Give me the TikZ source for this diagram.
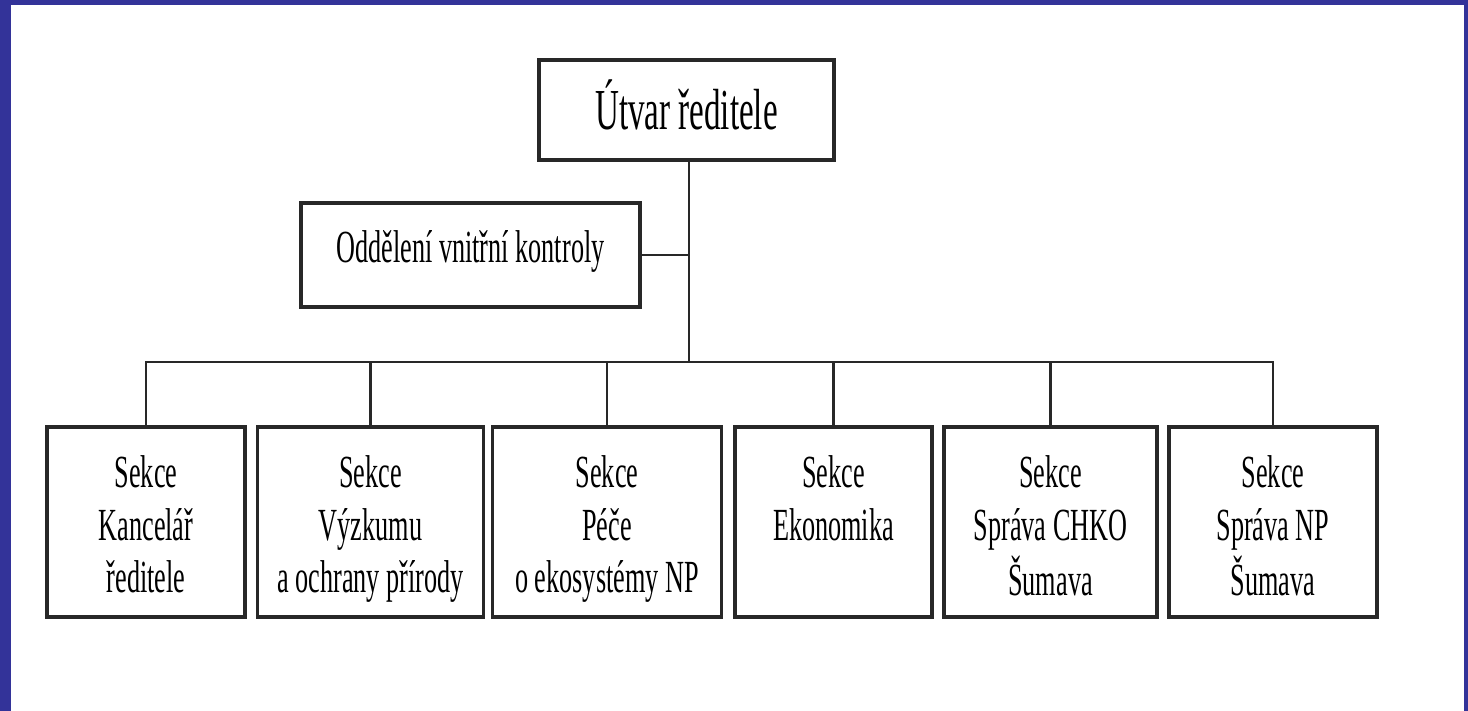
\documentclass[tikz,border=0pt]{standalone}
\usepackage{fontspec}
\setmainfont{Liberation Serif}[FakeStretch=0.57]
\usepackage{tikz}
\definecolor{frameblue}{RGB}{51,51,153}
\definecolor{boxline}{RGB}{40,40,40}
\newcommand{\sekce}[1]{\raisebox{0pt}[40bp][108bp]{\begin{tabular}[t]{@{}c@{}}#1\end{tabular}}}

\begin{document}
\begin{tikzpicture}[
    box/.style={draw=boxline, line width=3.5bp, inner sep=0pt, fill=white},
    sbox/.style={box, minimum height=190bp},
    conn/.style={draw=boxline, line width=2.5bp}]
      \tikzstyle{every node}=[font=\fontsize{46bp}{52.5bp}\selectfont]
      %%
  \fill [frameblue] (0bp,0bp) rectangle (1468bp,711bp);
  \fill [white] (11bp,0bp) rectangle (1464bp,706bp);
  \useasboundingbox (0bp,0bp) rectangle (1468bp,711bp);
  \node (u_1) at (686.5bp,601bp) [box, minimum width=295bp, minimum height=100bp, text height=40bp, text depth=0bp, font=\fontsize{58bp}{60bp}\selectfont] {Útvar ředitele};
  \node (o_2) at (470.5bp,456bp) [box, minimum width=339bp, minimum height=104bp, text height=30bp, text depth=14bp] {Oddělení vnitřní kontroly};
  \node (s_1) at (146bp,189bp) [sbox, minimum width=198bp] {\sekce{Sekce\\Kancelář\\ředitele}};
  \node (s_2) at (370.5bp,189bp) [sbox, minimum width=226bp] {\sekce{Sekce\\Výzkumu\\a ochrany přírody}};
  \node (s_3) at (607bp,189bp) [sbox, minimum width=229bp] {\sekce{Sekce\\Péče\\o ekosystémy NP}};
  \node (s_4) at (833.5bp,189bp) [sbox, minimum width=197bp] {\sekce{Sekce\\Ekonomika}};
  \node (s_5) at (1050.5bp,189bp) [sbox, minimum width=213bp] {\sekce{Sekce\\Správa CHKO\\Šumava}};
  \node (s_6) at (1273bp,189bp) [sbox, minimum width=208bp] {\sekce{Sekce\\Správa NP\\Šumava}};
  \coordinate (j_0) at (689bp,349bp);
  \draw [conn] (u_1.south -| j_0) -- (j_0);
  \draw [conn] (o_2.east) -- (o_2.east -| j_0);
  \draw [conn] (s_1.north) -- (s_1.north |- j_0) -- (s_6.north |- j_0) -- (s_6.north);
  \foreach \n in {2,...,5}
    \draw [conn] (s_\n.north) -- (s_\n.north |- j_0);
%
\end{tikzpicture}
\end{document}
